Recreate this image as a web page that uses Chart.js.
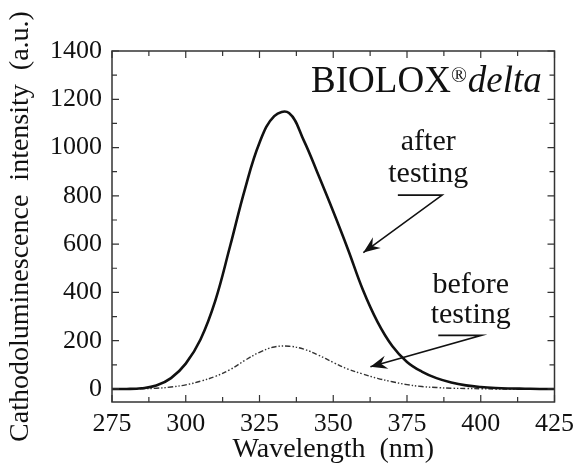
<!DOCTYPE html>
<html lang="en">
<head>
  <meta charset="UTF-8" />
  <title>Cathodoluminescence</title>
  <script src="https://cdn.jsdelivr.net/npm/chart.js"></script>
  <style>
    html, body { margin: 0; padding: 0; background: #fff; }
    .wrap { width: 581px; height: 464px; }
  </style>
</head>
<body>
  <div class="wrap"><canvas id="clChart" width="581" height="464"></canvas></div>

  <script>
    const wavelengths = [275, 280, 285, 290, 295, 300, 305, 310, 315, 320, 325, 330, 335, 340, 345, 350,
                         355, 360, 365, 370, 375, 380, 385, 390, 395, 400, 405, 410, 415, 420, 425];
    const afterTesting = [0, 0, 3, 14, 45, 105, 205, 365, 590, 825, 1020, 1130, 1143, 1030, 885, 735,
                          578, 412, 278, 178, 112, 72, 45, 27, 15, 8, 4, 2, 1, 0, 0];
    const beforeTesting = [0, 0, 1, 3, 8, 17, 32, 52, 80, 118, 152, 174, 177, 165, 140, 110,
                           82, 62, 44, 30, 18, 10, 6, 3, 2, 1, 0, 0, 0, 0, 0];
    const xTicks = [275, 300, 325, 350, 375, 400, 425];
    const yTicks = [0, 200, 400, 600, 800, 1000, 1200, 1400];

    const serif = '"Liberation Serif", "Times New Roman", serif';

    const frame = {
      id: 'frame',
      afterDatasetsDraw(chart) {
        const { ctx, chartArea: a, scales: { x, y } } = chart;
        const P = (nm, v) => [x.getPixelForValue(nm), y.getPixelForValue(v)];
        ctx.save();
        ctx.strokeStyle = '#333';
        ctx.lineWidth = 1.5;
        ctx.strokeRect(a.left, a.top, a.right - a.left, a.bottom - a.top);

        // inward ticks on all four sides
        ctx.lineWidth = 1.2;
        ctx.beginPath();
        for (let v = xTicks[0]; v <= xTicks[xTicks.length - 1]; v += 12.5) {
          const px = x.getPixelForValue(v);
          const len = xTicks.includes(v) ? 7 : 5;
          ctx.moveTo(px, a.bottom); ctx.lineTo(px, a.bottom - len);
          ctx.moveTo(px, a.top); ctx.lineTo(px, a.top + len);
        }
        for (let v = yTicks[0]; v <= yTicks[yTicks.length - 1]; v += 100) {
          const py = y.getPixelForValue(v);
          const len = yTicks.includes(v) ? 7 : 5;
          ctx.moveTo(a.left, py); ctx.lineTo(a.left + len, py);
          ctx.moveTo(a.right, py); ctx.lineTo(a.right - len, py);
        }
        ctx.stroke();

        // title text
        ctx.fillStyle = '#111';
        ctx.textBaseline = 'alphabetic';
        const [bx, by] = P(420.7, 1232);
        ctx.font = '37px ' + serif;
        const w1 = ctx.measureText('BIOLOX').width;
        ctx.font = '21px ' + serif;
        const w2 = ctx.measureText('®').width;
        ctx.font = 'italic 37px ' + serif;
        const w3 = ctx.measureText('delta').width;
        let sx = bx - (w1 + w2 + w3 + 1);
        ctx.textAlign = 'left';
        ctx.font = '37px ' + serif;
        ctx.fillText('BIOLOX', sx, by);
        ctx.font = '21px ' + serif;
        ctx.fillText('®', sx + w1, by - 10);
        ctx.font = 'italic 37px ' + serif;
        ctx.fillText('delta', sx + w1 + w2 + 1, by);

        // labels with arrows
        ctx.font = '30px ' + serif;
        ctx.textAlign = 'center';
        let p = P(382.2, 990); ctx.fillText('after', p[0], p[1]);
        p = P(382.2, 857); ctx.fillText('testing', p[0], p[1]);
        p = P(396.6, 398); ctx.fillText('before', p[0], p[1]);
        p = P(396.6, 273); ctx.fillText('testing', p[0], p[1]);

        const arrow = (x0, x1, v, tipNm, tipV) => {
          const [ax, ay] = P(x0, v);
          const [cx, cy] = P(x1, v);
          const [tx, ty] = P(tipNm, tipV);
          ctx.strokeStyle = '#111';
          ctx.lineWidth = 1.6;
          ctx.beginPath();
          ctx.moveTo(ax, ay); ctx.lineTo(cx, cy); ctx.lineTo(tx, ty);
          ctx.stroke();
          const ang = Math.atan2(ty - cy, tx - cx);
          const L = 18, half = 0.38;
          ctx.beginPath();
          ctx.moveTo(tx, ty);
          ctx.lineTo(tx - L * Math.cos(ang - half), ty - L * Math.sin(ang - half));
          ctx.lineTo(tx - 11 * Math.cos(ang), ty - 11 * Math.sin(ang));
          ctx.lineTo(tx - L * Math.cos(ang + half), ty - L * Math.sin(ang + half));
          ctx.closePath();
          ctx.fill();
        };
        arrow(371.9, 386.9, 803, 360.2, 565);
        arrow(385.6, 400.3, 222, 362.6, 92);
        ctx.restore();
      }
    };

    const ctx = document.getElementById('clChart').getContext('2d');
    new Chart(ctx, {
      type: 'line',
      data: {
        datasets: [
          {
            label: 'after testing',
            data: wavelengths.map((w, i) => ({ x: w, y: afterTesting[i] })),
            borderColor: '#111',
            borderWidth: 2.6,
            pointRadius: 0,
            tension: 0.4
          },
          {
            label: 'before testing',
            data: wavelengths.map((w, i) => ({ x: w, y: beforeTesting[i] })),
            borderColor: '#333',
            borderWidth: 1.4,
            borderDash: [5, 2, 1.5, 2, 1.5, 2],
            pointRadius: 0,
            tension: 0.4
          }
        ]
      },
      options: {
        responsive: false,
        animation: false,
        layout: { padding: { top: 51, right: 20, left: 0, bottom: 0 } },
        plugins: { legend: { display: false }, tooltip: { enabled: false } },
        scales: {
          x: {
            type: 'linear',
            min: 275,
            max: 425,
            afterBuildTicks: s => { s.ticks = xTicks.map(v => ({ value: v })); },
            afterFit: s => { s.height = 62; },
            grid: { display: false, drawTicks: false },
            border: { display: false },
            ticks: { color: '#111', padding: 7, font: { family: serif, size: 26 }, callback: v => String(v) },
            title: {
              display: true,
              text: 'Wavelength  (nm)',
              color: '#111',
              padding: { top: 0, bottom: 0 },
              font: { family: serif, size: 28, lineHeight: 1 }
            }
          },
          y: {
            min: -54,
            max: 1400,
            afterBuildTicks: s => { s.ticks = yTicks.map(v => ({ value: v })); },
            afterFit: s => { s.width = 112; },
            grid: { display: false, drawTicks: false },
            border: { display: false },
            ticks: { color: '#111', padding: 10, font: { family: serif, size: 26 }, callback: v => String(v) },
            title: {
              display: true,
              text: 'Cathodoluminescence  intensity  (a.u.)',
              color: '#111',
              padding: { top: 7, bottom: 0 },
              font: { family: serif, size: 28, lineHeight: 1 }
            }
          }
        }
      },
      plugins: [frame]
    });
  </script>
</body>
</html>
